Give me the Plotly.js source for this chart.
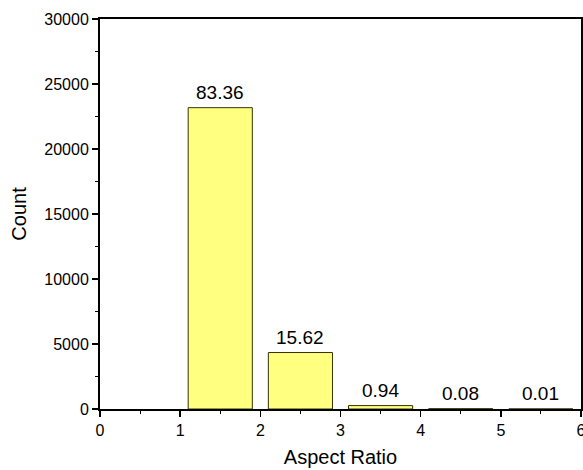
<!DOCTYPE html>
<html>
<head>
<meta charset="utf-8">
<script src="https://cdn.plot.ly/plotly-3.0.1.min.js"></script>
<style>html,body{margin:0;padding:0;background:#fff;}#chart{width:583px;height:470px;}</style>
</head>
<body>
<div id="chart"></div>
<script>
const binCenters = [1.5, 2.5, 3.5, 4.5, 5.5];
const counts = [23180, 4345, 262, 22, 3];
const percentLabels = ["83.36", "15.62", "0.94", "0.08", "0.01"];
const xTickVals = [0, 1, 2, 3, 4, 5, 6];
const yTickVals = [0, 5000, 10000, 15000, 20000, 25000, 30000];

const fam = 'Liberation Sans, Arial, sans-serif';
const trace = {
  type: 'bar',
  x: binCenters,
  y: counts,
  width: 0.8,
  marker: {color: '#ffff80', line: {color: '#333300', width: 1}},
  hoverinfo: 'none'
};

const labelAnnotations = binCenters.map((xc, i) => ({
  x: xc, y: counts[i], xref: 'x', yref: 'y',
  text: percentLabels[i], showarrow: false,
  xanchor: 'center', yanchor: 'bottom', yshift: 3,
  font: {family: fam, size: 19, color: '#000'}
}));

const axisFont = {family: fam, size: 16, color: '#000'};
const layout = {
  width: 583, height: 470,
  margin: {l: 100, r: 2, t: 19, b: 61},
  paper_bgcolor: '#fff', plot_bgcolor: '#fff',
  showlegend: false,
  font: axisFont,
  annotations: labelAnnotations,
  xaxis: {
    range: [0, 6], tickvals: xTickVals, ticktext: xTickVals.map(String),
    ticks: 'outside', ticklen: 6, tickwidth: 1.5, tickcolor: '#000',
    showline: true, linecolor: '#000', linewidth: 2, mirror: true,
    showgrid: false, zeroline: false,
    tickfont: axisFont, ticklabeloverflow: 'allow',
    minor: {dtick: 0.5, ticks: 'outside', ticklen: 3, tickwidth: 1, tickcolor: '#000', showgrid: false},
    title: {text: 'Aspect Ratio', font: {family: fam, size: 20, color: '#000'}, standoff: 12}
  },
  yaxis: {
    range: [0, 30000], tickvals: yTickVals, ticktext: yTickVals.map(String),
    ticks: 'outside', ticklen: 6, tickwidth: 1.5, tickcolor: '#000',
    showline: true, linecolor: '#000', linewidth: 2, mirror: true,
    showgrid: false, zeroline: false,
    tickfont: axisFont,
    minor: {dtick: 2500, ticks: 'outside', ticklen: 3, tickwidth: 1, tickcolor: '#000', showgrid: false},
    title: {text: 'Count', font: {family: fam, size: 20, color: '#000'}, standoff: 12}
  }
};

Plotly.newPlot('chart', [trace], layout, {displayModeBar: false, staticPlot: true});
</script>
</body>
</html>
